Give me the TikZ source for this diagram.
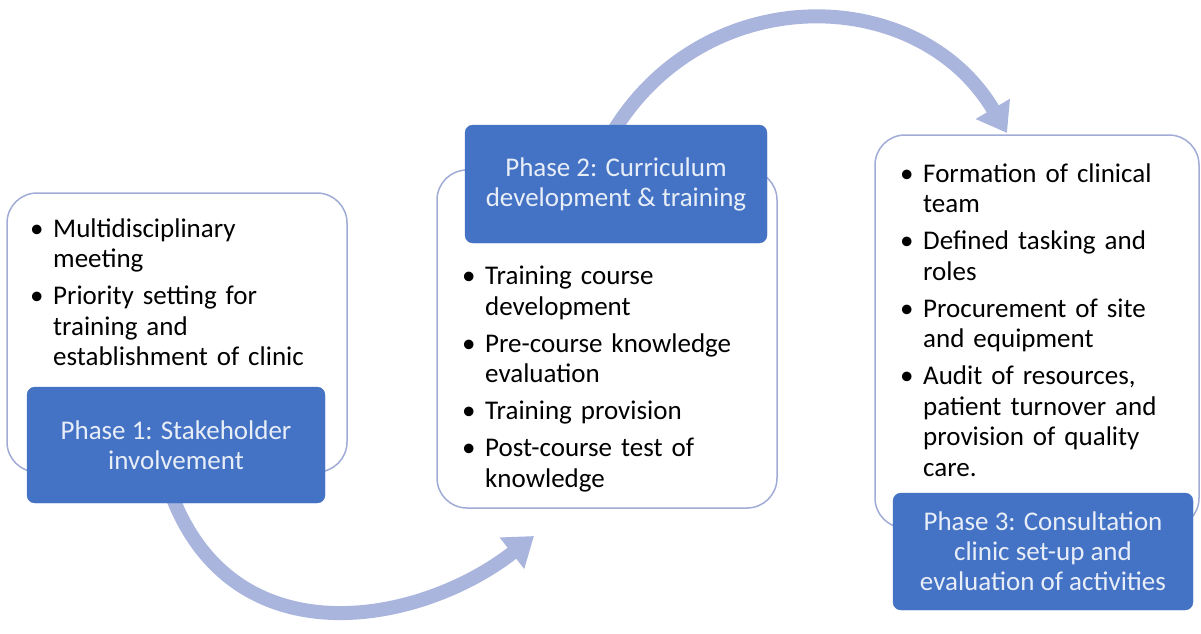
\documentclass[tikz,border=0pt]{standalone}
\usepackage{fontspec}
\setmainfont{Carlito}
\usetikzlibrary{arrows.meta}
\definecolor{phaseblue}{RGB}{68,114,196}
\definecolor{boxline}{RGB}{160,172,214}
\definecolor{arrowcol}{RGB}{170,181,222}
\definecolor{phasetext}{RGB}{232,238,248}
\newcommand{\bitem}[1]{\par\noindent\hangindent=23pt\hangafter=1\rule{0pt}{22pt}\makebox[23pt][l]{\textbullet}#1}
\tikzset{
  card/.style={draw=boxline, line width=1.5pt, fill=white, rounded corners=30pt},
  phase/.style={fill=phaseblue, draw=phaseblue, rounded corners=8pt, text=phasetext,
    align=center, inner sep=0pt, font=\fontsize{27}{30}\selectfont},
  list/.style={anchor=north west, inner sep=0pt, text width=330pt, align=left,
    font=\fontsize{27}{30.5}\selectfont},
  flow/.style={draw=arrowcol, line width=14pt, -{Triangle[length=28pt,width=38pt]}}
}
\begin{document}
\begin{tikzpicture}[x=1pt,y=-1pt]
\useasboundingbox (0,0) rectangle (1201,633);
% connectors
\coordinate (a1s) at (172,496);
\coordinate (a1e) at (534,536);
\coordinate (a2s) at (613,132);
\coordinate (a2e) at (1007,133);
\draw[flow] (a1s) .. controls (235,660) and (420,625) .. (a1e);
\draw[flow] (a2s) .. controls (706,-21) and (919,-16) .. (a2e);
% white cards
\node[card, minimum width=340pt, minimum height=279pt] (w1) at (177,332.5) {};
\node[card, minimum width=340pt, minimum height=338pt] (w2) at (607,339) {};
\node[card, minimum width=324pt, minimum height=393pt] (w3) at (1037,331.5) {};
% lists
\node[list] (l1) at (30,200) {\setlength{\parskip}{6.5pt}%
\bitem{Multidisciplinary\newline meeting}
\bitem{Priority setting for\newline training and\newline establishment of clinic}\par};
\node[list] (l2) at (462,247.5) {\setlength{\parskip}{6.5pt}%
\bitem{Training course\newline development}
\bitem{Pre-course knowledge\newline evaluation}
\bitem{Training provision}
\bitem{Post-course test of\newline knowledge}\par};
\node[list] (l3) at (900,145) {\setlength{\parskip}{6.5pt}%
\bitem{Formation of clinical\newline team}
\bitem{Defined tasking and\newline roles}
\bitem{Procurement of site\newline and equipment}
\bitem{Audit of resources,\newline patient turnover and\newline provision of quality\newline care.}\par};
% phase boxes
\node[phase, minimum width=298pt, minimum height=116pt] (p1) at (176,445) {Phase 1: Stakeholder\\involvement};
\node[phase, minimum width=302pt, minimum height=118pt] (p2) at (616,184) {Phase 2: Curriculum\\development \& training};
\node[phase, minimum width=300pt, minimum height=117pt] (p3) at (1043,551.5) {Phase 3: Consultation\\clinic set-up and\\evaluation of activities};
\end{tikzpicture}
\end{document}
